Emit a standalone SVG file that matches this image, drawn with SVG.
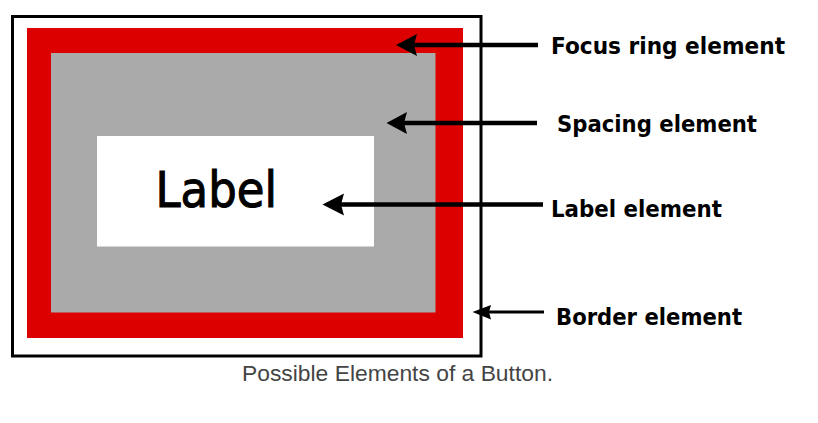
<svg xmlns="http://www.w3.org/2000/svg" width="818" height="423" viewBox="0 0 818 423">
<style>
.lbl{font-family:"DejaVu Sans","Liberation Sans",sans-serif;font-weight:bold;font-size:23px;fill:#000}
.ln{stroke:#000;fill:none}
.hd{fill:#000}
.cap{font-family:"Liberation Sans",Arial,sans-serif;font-size:22.5px;fill:#444}
</style>
<rect width="818" height="423" fill="#fff"/>
<g id="border"><rect x="12.5" y="16.5" width="468.5" height="339.5" fill="#fff" stroke="#000" stroke-width="3"/></g>
<g id="focus-ring"><rect x="27" y="28" width="436" height="310" fill="#dd0000"/></g>
<g id="spacing"><rect x="51" y="53" width="384.5" height="259.5" fill="#aaaaaa"/></g>
<g id="label-box"><rect x="97" y="136" width="277" height="110.5" fill="#fff"/>
<text x="155.5" y="207" font-family="DejaVu Sans, sans-serif" font-size="50" stroke="#000" stroke-width="1.1" textLength="121.5" lengthAdjust="spacingAndGlyphs">Label</text></g>
<g id="connectors">
<line class="ln" x1="414" y1="45" x2="538" y2="45" stroke-width="4.5"/>
<path class="hd" d="M396,45 L417,34 L414,45 L417,56 Z"/>
<line class="ln" x1="403" y1="123" x2="537" y2="123" stroke-width="4.5"/>
<path class="hd" d="M386.5,123 L407,112 L404,123 L407,134 Z"/>
<line class="ln" x1="341" y1="204.5" x2="543" y2="204.5" stroke-width="4.5"/>
<path class="hd" d="M322.5,204.5 L344,193.5 L341,204.5 L344,215.5 Z"/>
<line class="ln" x1="489" y1="312" x2="544" y2="312" stroke-width="3"/>
<path class="hd" d="M472.5,312 L491,305 L489,312 L491,319.5 Z"/>
</g>
<g id="texts">
<text class="lbl" x="551" y="54" textLength="234" lengthAdjust="spacingAndGlyphs">Focus ring element</text>
<text class="lbl" x="557" y="132" textLength="200" lengthAdjust="spacingAndGlyphs">Spacing element</text>
<text class="lbl" x="551" y="217" textLength="171" lengthAdjust="spacingAndGlyphs">Label element</text>
<text class="lbl" x="556" y="325" textLength="186" lengthAdjust="spacingAndGlyphs">Border element</text>
</g>
<text class="cap" x="242" y="381" textLength="311" lengthAdjust="spacingAndGlyphs">Possible Elements of a Button.</text>
</svg>
